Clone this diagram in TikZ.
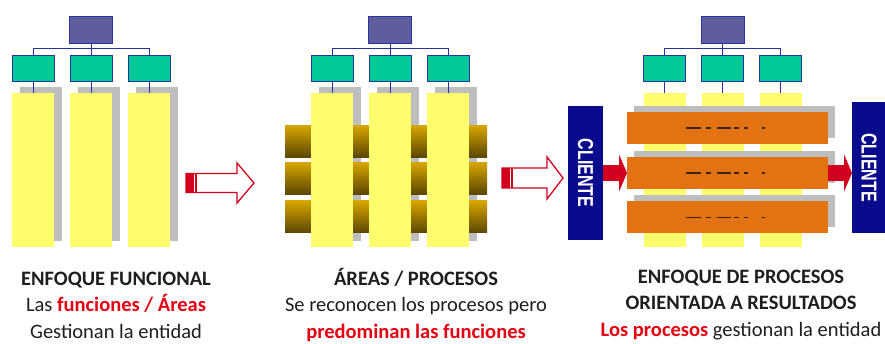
\documentclass[tikz,border=0pt]{standalone}
\usepackage{fontspec}
\setmainfont{Carlito}
\setsansfont{Liberation Sans}
\usetikzlibrary{arrows.meta}
\definecolor{chiefblue}{RGB}{94,94,158}
\definecolor{unitgreen}{RGB}{0,200,150}
\definecolor{edgeblue}{RGB}{40,50,160}
\definecolor{colyellow}{RGB}{255,255,110}
\definecolor{shadowgray}{RGB}{190,190,190}
\definecolor{goldtop}{RGB}{215,165,0}
\definecolor{goldbot}{RGB}{90,70,0}
\definecolor{procorange}{RGB}{226,114,18}
\definecolor{clientnavy}{RGB}{10,10,140}
\definecolor{flowred}{RGB}{210,0,30}
\definecolor{textred}{RGB}{230,0,20}
\definecolor{inkgray}{RGB}{30,30,30}
\tikzset{
  chief/.style     = {rectangle, draw=edgeblue, line width=1pt, fill=chiefblue,
                      minimum width=43pt, minimum height=27pt,
                      inner sep=0pt, outer sep=0pt},
  unit/.style      = {chief, fill=unitgreen, minimum width=42pt, minimum height=26pt},
  column/.style    = {rectangle, fill=colyellow, minimum width=42pt,
                      minimum height=154pt, inner sep=0pt, outer sep=0pt},
  colshadow/.style = {column, fill=shadowgray},
  orgline/.style   = {draw=edgeblue, line width=1pt},
  areabar/.style   = {rectangle, top color=goldtop, bottom color=goldbot,
                      minimum width=202pt, minimum height=32pt,
                      inner sep=0pt, outer sep=0pt},
  procbar/.style   = {rectangle, fill=procorange, minimum width=201pt,
                      minimum height=32pt, inner sep=0pt, outer sep=0pt},
  procshadow/.style= {procbar, fill=shadowgray},
  dashline/.style  = {draw=black!70!brown, line width=1.5pt,
                      dash pattern=on 15pt off 5pt on 5pt off 6pt on 14pt off 3pt
                                   on 5pt off 5pt on 4pt off 14pt on 3pt off 20pt},
  client/.style    = {rectangle, fill=clientnavy, text=white, inner sep=0pt,
                      outer sep=0pt, minimum width=35pt, minimum height=134pt,
                      font=\sffamily\bfseries\fontsize{16}{16}\selectfont},
  flow/.style      = {-{Triangle[length=8pt,width=37pt]}, draw=flowred, line width=16pt},
  hollow/.style    = {draw=flowred, fill=white, line width=1.3pt, line join=miter},
  caption/.style   = {font=\fontsize{20.5}{26.5}\selectfont, align=center,
                      inner sep=0pt, text=inkgray}
}
\newcommand{\clientlabel}{\rotatebox{-90}{\scalebox{1}[1.35]{CLIENTE}}}
\begin{document}
\begin{tikzpicture}[x=1pt,y=-1pt]
  \useasboundingbox (0,0) rectangle (885,344);

  % shadows behind the function columns
  \foreach \p/\c in {1/91,2/390}
    \foreach \k/\dx in {1/-58,2/0,3/58}
      \node[colshadow] (sh\p\k) at (\c+\dx+8,164) {};

  % areas crossing the columns
  \foreach \k/\y in {1/141.5,2/178.5,3/217}
    \node[areabar] (area\k) at (386,\y) {};

  % columns and org charts
  \foreach \p/\c in {1/91,2/390,3/722.5}{
    \node[chief] (top\p) at (\c,30.5) {};
    \foreach \k/\dx in {1/-58,2/0,3/58}{
      \node[column] (col\p\k) at (\c+\dx,170) {};
      \node[unit] (unit\p\k) at (\c+\dx,69) {};
      \draw[orgline] (unit\p\k) -- (col\p\k);
    }
    \draw[orgline] (top\p) -- (unit\p2);
    \draw[orgline] (unit\p1.north) -- ++(0,-7) -| (unit\p3.north);
  }

  % processes
  \foreach \k/\y in {1/128,2/173,3/217.5}{
    \node[procshadow] (psh\k) at (734.5,\y-6) {};
    \node[procbar] (proc\k) at (727.5,\y) {};
    \draw[dashline] ([xshift=-42pt]proc\k.center) -- ([xshift=41pt]proc\k.center);
  }

  \node[client] (clientL) at (585.5,173) {\clientlabel};
  \node[client, minimum width=34pt, minimum height=131pt] (clientR) at (869,167.5)
    {\clientlabel};
  \draw[flow] (clientL.east |- proc2.west) -- (proc2.west);
  \draw[flow] (proc2.east) -- (clientR.west |- proc2.east);

  % big arrows between the stages
  \foreach \xa/\xb/\xc/\ym/\bw/\hw in {186/237/254/183/9.5/20, 502/547/563/178/10/21}{
    \draw[hollow] (\xa,\ym-\bw) -- (\xb,\ym-\bw) -- (\xb,\ym-\hw) -- (\xc,\ym)
      -- (\xb,\ym+\hw) -- (\xb,\ym+\bw) -- (\xa,\ym+\bw) -- cycle;
    \fill[flowred] (\xa,\ym-\bw) rectangle (\xa+8,\ym+\bw);
    \draw[flowred, line width=1.5pt] (\xa+10,\ym-\bw) -- (\xa+10,\ym+\bw);
  }

  \node[caption] (cap1) at (116,305) {\bfseries ENFOQUE FUNCIONAL\\
    Las {\color{textred}\bfseries funciones / Áreas}\\Gestionan la entidad};
  \node[caption] (cap2) at (416,305) {\bfseries ÁREAS / PROCESOS\\
    Se reconocen los procesos pero\\{\color{textred}\bfseries predominan las funciones}};
  \node[caption] (cap3) at (741,305) {\bfseries ENFOQUE DE PROCESOS\\
    \bfseries ORIENTADA A RESULTADOS\\{\color{textred}\bfseries Los procesos} gestionan la entidad};
\end{tikzpicture}
\end{document}
